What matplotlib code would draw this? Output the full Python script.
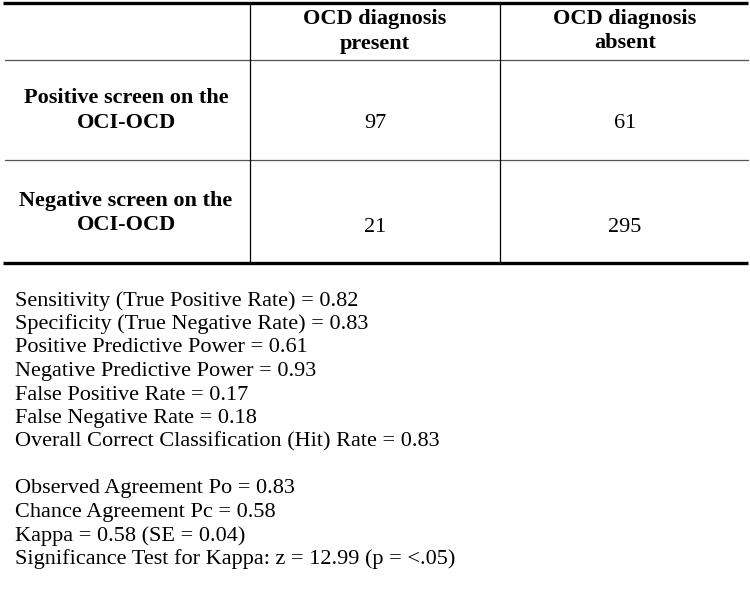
import matplotlib
matplotlib.use("Agg")
import matplotlib.pyplot as plt

col_headers = ["OCD diagnosis\npresent", "OCD diagnosis\nabsent"]
row_labels = ["Positive screen on the\nOCI-OCD", "Negative screen on the\nOCI-OCD"]
counts = [[97, 61], [21, 295]]
stats_block1 = [
    "Sensitivity (True Positive Rate) = 0.82",
    "Specificity (True Negative Rate) = 0.83",
    "Positive Predictive Power = 0.61",
    "Negative Predictive Power = 0.93",
    "False Positive Rate = 0.17",
    "False Negative Rate = 0.18",
    "Overall Correct Classification (Hit) Rate = 0.83",
]
stats_block2 = [
    "Observed Agreement Po = 0.83",
    "Chance Agreement Pc = 0.58",
    "Kappa = 0.58 (SE = 0.04)",
    "Significance Test for Kappa: z = 12.99 (p = <.05)",
]

W, H = 750, 599
fig = plt.figure(figsize=(W / 100, H / 100), dpi=100)
ax = fig.add_axes([0, 0, 1, 1])
ax.set_xlim(0, W)
ax.set_ylim(H, 0)
ax.axis("off")

serif = ["Liberation Serif", "DejaVu Serif"]
FS = 16

# table lines
ax.plot([3, 748], [3, 3], color="black", lw=2.4, solid_capstyle="butt")
ax.plot([3, 748], [263, 263], color="black", lw=2.4, solid_capstyle="butt")
for y in [60, 160]:
    ax.plot([5, 748], [y, y], color="#555555", lw=0.9)
for x in [250, 500]:
    ax.plot([x, x], [4, 262], color="black", lw=0.9)

line_gap = 24.5
col_x = [375, 625]
for cx, h in zip(col_x, col_headers):
    for j, part in enumerate(h.split("\n")):
        ax.text(cx, 19 + j * line_gap, part, ha="center", va="center", fontsize=FS,
                fontweight="bold", family=serif)

row_y = [98, 201]
for ry, lab, vals in zip(row_y, row_labels, counts):
    for j, part in enumerate(lab.split("\n")):
        ax.text(126, ry + j * line_gap, part, ha="center", va="center", fontsize=FS,
                fontweight="bold", family=serif)
    for cx, v in zip(col_x, vals):
        ax.text(cx, ry + line_gap + 1.5, str(v), ha="center", va="center", fontsize=FS, family=serif)

y0 = 301
step = 23.5
for i, s in enumerate(stats_block1):
    ax.text(15, y0 + i * step, s, ha="left", va="center", fontsize=FS, family=serif)
y1 = 489
for i, s in enumerate(stats_block2):
    ax.text(15, y1 + i * step, s, ha="left", va="center", fontsize=FS, family=serif)

fig.savefig("out.png", dpi=100, facecolor="white")
